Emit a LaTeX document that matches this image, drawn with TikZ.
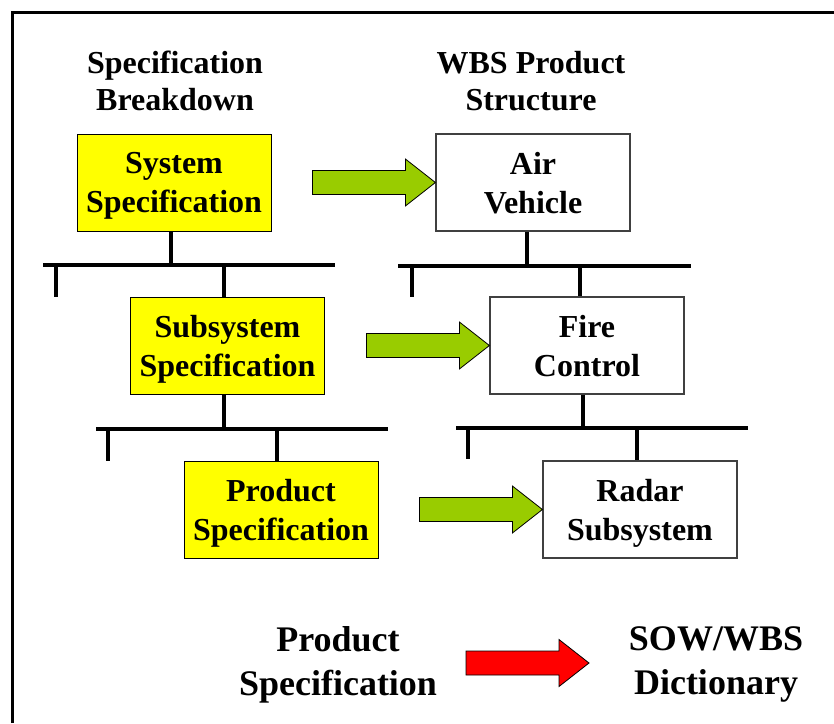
\documentclass[tikz,border=0pt]{standalone}
\usepackage{fontspec}
\setmainfont{Liberation Serif}
\usetikzlibrary{calc}

\definecolor{specyellow}{HTML}{FFFF00}
\definecolor{mapgreen}{HTML}{99CC00}
\definecolor{mapred}{HTML}{FF0000}
\definecolor{boxgray}{HTML}{404040}

\tikzset{
  heading/.style={font=\fontsize{32}{37}\selectfont\bfseries, align=center, inner sep=0pt, text depth=0pt},
  bigtext/.style={font=\fontsize{36}{44}\selectfont\bfseries, align=center, inner sep=0pt},
  anybox/.style={minimum width=194, minimum height=97, inner sep=0pt,
    font=\fontsize{32}{39}\selectfont\bfseries, align=center, text depth=-5pt},
  specbox/.style={anybox, draw=black, line width=1pt, fill=specyellow},
  wbsbox/.style={anybox, draw=boxgray, line width=1.2pt, fill=white},
  trunk/.style={line width=3.5pt},
  crossbar/.style={line width=4.5pt},
  blockarrow/.style={draw=black, line width=0.8pt, line join=miter},
  frameline/.style={line width=3pt},
}

% block arrow whose tip sits on the given point
\newcommand\maparrow[2]{%
  \draw[blockarrow, fill=#1]
    ($(#2)+(-123,-12)$) -- ($(#2)+(-30,-12)$) -- ($(#2)+(-30,-23.5)$) -- (#2)
    -- ($(#2)+(-30,23.5)$) -- ($(#2)+(-30,12)$) -- ($(#2)+(-123,12)$) -- cycle;}

\begin{document}
\begin{tikzpicture}[x=1pt, y=-1pt]
  \useasboundingbox (0,0) rectangle (834,723);

  % frame
  \draw[frameline] (12,723) -- (12,12) -- (834,12);

  % column headings
  \node[heading] (hspec) at (175,81) {Specification\\Breakdown};
  \node[heading] (hwbs)  at (531,81) {WBS Product\\Structure};

  % specification column
  \node[specbox] (sys)  at (174,182.5)   {System\\Specification};
  \node[specbox] (sub)  at (227.5,345.5) {Subsystem\\Specification};
  \node[specbox] (prod) at (281,509.5)   {Product\\Specification};

  % product structure column
  \node[wbsbox] (air)   at (533,182.5)   {Air\\Vehicle};
  \node[wbsbox] (fire)  at (587,345.5)   {Fire\\Control};
  \node[wbsbox] (radar) at (640,509.5)   {Radar\\Subsystem};

  % tree under System Specification
  \coordinate (j1) at (171,265);
  \coordinate (b1l) at (43,265);  \coordinate (b1r) at (335,265);
  \coordinate (s1a) at (56,265);  \coordinate (s1b) at (224,265);
  \coordinate (e1a) at (56,297);
  \draw[trunk] (sys.south -| j1) -- (j1);
  \draw[crossbar] (b1l) -- (b1r);
  \draw[trunk] (s1a) -- (e1a);
  \draw[trunk] (s1b) -- (s1b |- sub.north);

  % tree under Subsystem Specification
  \coordinate (j2) at (224,429);
  \coordinate (b2l) at (96,429);  \coordinate (b2r) at (388,429);
  \coordinate (s2a) at (108,429); \coordinate (s2b) at (277,429);
  \coordinate (e2a) at (108,461);
  \draw[trunk] (sub.south -| j2) -- (j2);
  \draw[crossbar] (b2l) -- (b2r);
  \draw[trunk] (s2a) -- (e2a);
  \draw[trunk] (s2b) -- (s2b |- prod.north);

  % tree under Air Vehicle
  \coordinate (j3) at (527,266);
  \coordinate (b3l) at (398,266); \coordinate (b3r) at (691,266);
  \coordinate (s3a) at (412,266); \coordinate (s3b) at (580,266);
  \coordinate (e3a) at (412,297);
  \draw[trunk] (air.south -| j3) -- (j3);
  \draw[crossbar] (b3l) -- (b3r);
  \draw[trunk] (s3a) -- (e3a);
  \draw[trunk] (s3b) -- (s3b |- fire.north);

  % tree under Fire Control
  \coordinate (j4) at (583,428);
  \coordinate (b4l) at (456,428); \coordinate (b4r) at (748,428);
  \coordinate (s4a) at (468,428); \coordinate (s4b) at (637,428);
  \coordinate (e4a) at (468,459);
  \draw[trunk] (fire.south -| j4) -- (j4);
  \draw[crossbar] (b4l) -- (b4r);
  \draw[trunk] (s4a) -- (e4a);
  \draw[trunk] (s4b) -- (s4b |- radar.north);

  % specification to product structure
  \maparrow{mapgreen}{air.west}
  \maparrow{mapgreen}{fire.west}
  \maparrow{mapgreen}{radar.west}

  % bottom relation
  \node[bigtext] (pspec) at (338,664.5) {Product\\Specification};
  \node[bigtext] (dict)  at (716,664.5) {SOW/WBS\\Dictionary};
  \coordinate (redtip) at (589,663);
  \maparrow{mapred}{redtip}
\end{tikzpicture}
\end{document}
